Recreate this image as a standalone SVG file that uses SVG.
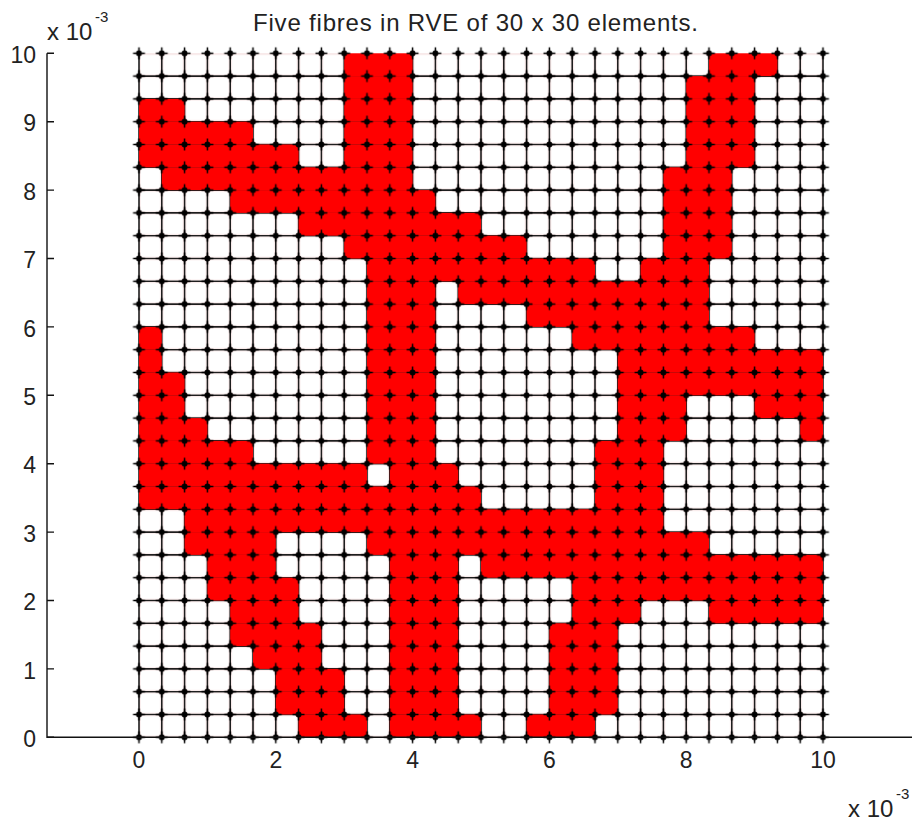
<svg xmlns="http://www.w3.org/2000/svg" width="912" height="821" viewBox="0 0 912 821">
<style>
text{font-family:"Liberation Sans",Arial,sans-serif;fill:#222}
.tk{font-size:23px}
.ax{stroke:#111;stroke-width:1.4;fill:none}
.red{fill:#ff0000}
</style>
<defs>
<pattern id="wc" patternUnits="userSpaceOnUse" x="0" y="0" width="1" height="1">
<rect x="0.07" y="0.07" width="0.86" height="0.86" rx="0.12" fill="#ffffff"/>
</pattern>
<pattern id="nd" patternUnits="userSpaceOnUse" x="-0.5" y="-0.5" width="1" height="1">
<path d="M0.5 0.24V0.76M0.24 0.5H0.76" stroke="#000" stroke-width="0.065"/>
<circle cx="0.5" cy="0.5" r="0.13" fill="#000"/>
</pattern>
</defs>
<rect width="912" height="821" fill="#ffffff"/>
<g id="title"><text x="475.5" y="31" font-size="24" text-anchor="middle" textLength="445" lengthAdjust="spacing">Five fibres in RVE of 30 x 30 elements.</text></g>
<g id="mesh" transform="translate(139,53.3) scale(22.8)">
<rect x="0" y="0" width="30" height="30" fill="#f5e2e2"/>
<path stroke="#1e1e1e" stroke-width="0.07" fill="none" d="M0 1H30M0 2H30M0 3H30M0 4H30M0 5H30M0 6H30M0 7H30M0 8H30M0 9H30M0 10H30M0 11H30M0 12H30M0 13H30M0 14H30M0 15H30M0 16H30M0 17H30M0 18H30M0 19H30M0 20H30M0 21H30M0 22H30M0 23H30M0 24H30M0 25H30M0 26H30M0 27H30M0 28H30M0 29H30M0 0V30M1 0V30M2 0V30M3 0V30M4 0V30M5 0V30M6 0V30M7 0V30M8 0V30M9 0V30M10 0V30M11 0V30M12 0V30M13 0V30M14 0V30M15 0V30M16 0V30M17 0V30M18 0V30M19 0V30M20 0V30M21 0V30M22 0V30M23 0V30M24 0V30M25 0V30M26 0V30M27 0V30M28 0V30M29 0V30M30 0V30"/>
<rect x="0" y="0" width="30" height="30" fill="url(#wc)"/>
<g id="fibres" class="red">
<rect x="9" y="0" width="3" height="1"/><rect x="25" y="0" width="3" height="1"/>
<rect x="9" y="1" width="3" height="1"/><rect x="24" y="1" width="3" height="1"/>
<rect x="0" y="2" width="2" height="1"/><rect x="9" y="2" width="3" height="1"/><rect x="24" y="2" width="3" height="1"/>
<rect x="0" y="3" width="5" height="1"/><rect x="9" y="3" width="3" height="1"/><rect x="24" y="3" width="3" height="1"/>
<rect x="0" y="4" width="7" height="1"/><rect x="9" y="4" width="3" height="1"/><rect x="24" y="4" width="3" height="1"/>
<rect x="1" y="5" width="11" height="1"/><rect x="23" y="5" width="3" height="1"/>
<rect x="4" y="6" width="9" height="1"/><rect x="23" y="6" width="3" height="1"/>
<rect x="7" y="7" width="8" height="1"/><rect x="23" y="7" width="3" height="1"/>
<rect x="9" y="8" width="8" height="1"/><rect x="23" y="8" width="3" height="1"/>
<rect x="10" y="9" width="10" height="1"/><rect x="22" y="9" width="3" height="1"/>
<rect x="10" y="10" width="3" height="1"/><rect x="14" y="10" width="11" height="1"/>
<rect x="10" y="11" width="3" height="1"/><rect x="17" y="11" width="8" height="1"/>
<rect x="0" y="12" width="1" height="1"/><rect x="10" y="12" width="3" height="1"/><rect x="19" y="12" width="8" height="1"/>
<rect x="0" y="13" width="1" height="1"/><rect x="10" y="13" width="3" height="1"/><rect x="21" y="13" width="9" height="1"/>
<rect x="0" y="14" width="2" height="1"/><rect x="10" y="14" width="3" height="1"/><rect x="21" y="14" width="9" height="1"/>
<rect x="0" y="15" width="2" height="1"/><rect x="10" y="15" width="3" height="1"/><rect x="21" y="15" width="3" height="1"/><rect x="27" y="15" width="3" height="1"/>
<rect x="0" y="16" width="3" height="1"/><rect x="10" y="16" width="3" height="1"/><rect x="21" y="16" width="3" height="1"/><rect x="29" y="16" width="1" height="1"/>
<rect x="0" y="17" width="5" height="1"/><rect x="10" y="17" width="3" height="1"/><rect x="20" y="17" width="3" height="1"/>
<rect x="0" y="18" width="10" height="1"/><rect x="11" y="18" width="3" height="1"/><rect x="20" y="18" width="3" height="1"/>
<rect x="0" y="19" width="15" height="1"/><rect x="20" y="19" width="3" height="1"/>
<rect x="2" y="20" width="21" height="1"/>
<rect x="2" y="21" width="4" height="1"/><rect x="10" y="21" width="15" height="1"/>
<rect x="3" y="22" width="3" height="1"/><rect x="11" y="22" width="3" height="1"/><rect x="15" y="22" width="15" height="1"/>
<rect x="3" y="23" width="4" height="1"/><rect x="11" y="23" width="3" height="1"/><rect x="19" y="23" width="11" height="1"/>
<rect x="4" y="24" width="3" height="1"/><rect x="11" y="24" width="3" height="1"/><rect x="19" y="24" width="3" height="1"/><rect x="25" y="24" width="5" height="1"/>
<rect x="4" y="25" width="4" height="1"/><rect x="11" y="25" width="3" height="1"/><rect x="18" y="25" width="3" height="1"/>
<rect x="5" y="26" width="3" height="1"/><rect x="11" y="26" width="3" height="1"/><rect x="18" y="26" width="3" height="1"/>
<rect x="6" y="27" width="3" height="1"/><rect x="11" y="27" width="3" height="1"/><rect x="18" y="27" width="3" height="1"/>
<rect x="6" y="28" width="3" height="1"/><rect x="11" y="28" width="3" height="1"/><rect x="18" y="28" width="3" height="1"/>
<rect x="7" y="29" width="3" height="1"/><rect x="11" y="29" width="4" height="1"/><rect x="17" y="29" width="3" height="1"/>
</g>
<rect id="nodes" x="-0.5" y="-0.5" width="31" height="31" fill="url(#nd)"/>
</g>
<g id="axes">
<path class="ax" d="M47 53.3V737.3H912"/>
<path class="ax" d="M47 737.3h7M47 668.9h7M47 600.5h7M47 532.1h7M47 463.7h7M47 395.3h7M47 326.9h7M47 258.5h7M47 190.1h7M47 121.7h7M47 53.3h7"/>
<g class="tk" text-anchor="end">
<text x="36" y="747">0</text><text x="36" y="679">1</text><text x="36" y="610">2</text><text x="36" y="542">3</text><text x="36" y="473">4</text><text x="36" y="405">5</text><text x="36" y="337">6</text><text x="36" y="268">7</text><text x="36" y="200">8</text><text x="36" y="131">9</text><text x="36" y="63">10</text>
</g>
<g class="tk" text-anchor="middle">
<text x="139" y="768">0</text><text x="275.8" y="768">2</text><text x="412.6" y="768">4</text><text x="549.4" y="768">6</text><text x="686.2" y="768">8</text><text x="823" y="768">10</text>
</g>
<text x="47" y="40" font-size="24">x 10</text><text x="95" y="22" font-size="15">-3</text>
<text x="848" y="817" font-size="24">x 10</text><text x="896" y="799" font-size="15">-3</text>
</g>
</svg>
